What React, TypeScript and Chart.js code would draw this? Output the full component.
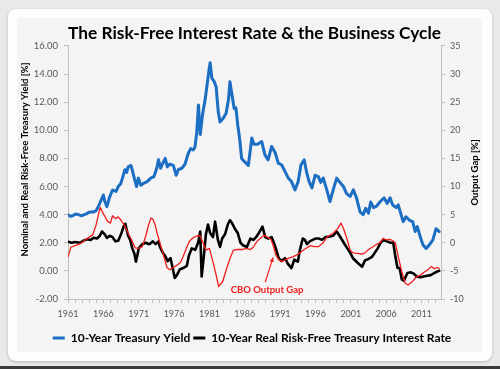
import React, { useEffect, useRef } from 'react';
import { Chart, registerables } from 'chart.js';

Chart.register(...registerables);

// ---------- text ----------
const titleText = 'The Risk-Free Interest Rate & the Business Cycle';
const leftAxisTitle = 'Nominal and Real Risk-Free Treasury Yield [%]';
const rightAxisTitle = 'Output Gap [%]';
const seriesNames = [
  '10-Year Treasury Yield',
  '10-Year Real Risk-Free Treasury Interest Rate',
  'CBO Output Gap',
];
const gapNoteText = 'CBO Output Gap';

// ---------- axes ----------
const xMin = 1961;
const xMax = 2013.75;
const xLabelYears = [1961, 1966, 1971, 1976, 1981, 1986, 1991, 1996, 2001, 2006, 2011];
const xTickYears = Array.from({ length: 53 }, (_, i) => 1961 + i);
const leftTicks = [-2, 0, 2, 4, 6, 8, 10, 12, 14, 16];
const rightTicks = [-10, -5, 0, 5, 10, 15, 20, 25, 30, 35];

// annotation anchor (year, output-gap %)
const gapNoteAt = [1989.15, -8.4];
const gapArrowFrom = [1988.9, -7.0];
const gapArrowTo = [1990.0, -2.6];

// ---------- data ----------
const yieldYears = [
  1961.0, 1961.4, 1961.75, 1962.1, 1962.5, 1962.9, 1963.2, 1963.6, 1963.9, 1964.3,
  1964.6, 1965.0, 1965.4, 1965.75, 1966.0, 1966.2, 1966.5, 1966.85, 1967.3, 1967.8,
  1968.1, 1968.45, 1968.7, 1969.05, 1969.3, 1969.5, 1969.9, 1970.15, 1970.5, 1970.7,
  1970.95, 1971.3, 1971.75, 1972.2, 1972.7, 1973.15, 1973.55, 1973.8, 1974.1, 1974.5,
  1974.75, 1975.05, 1975.4, 1975.9, 1976.3, 1976.6, 1977.1, 1977.55, 1978.0, 1978.35,
  1978.7, 1978.95, 1979.2, 1979.45, 1979.7, 1980.05, 1980.4, 1980.7, 1981.0, 1981.1,
  1981.35, 1981.65, 1981.95, 1982.25, 1982.5, 1982.95, 1983.35, 1983.7, 1983.9, 1984.2,
  1984.5, 1984.75, 1985.0, 1985.3, 1985.55, 1986.0, 1986.5, 1987.0, 1987.3, 1987.8,
  1988.4, 1988.85, 1989.3, 1989.8, 1990.3, 1990.75, 1991.2, 1991.7, 1992.15, 1992.6,
  1993.1, 1993.55, 1993.95, 1994.4, 1994.75, 1995.1, 1995.5, 1995.95, 1996.4, 1996.75,
  1997.1, 1997.6, 1998.05, 1998.5, 1999.0, 1999.45, 1999.95, 2000.4, 2000.9, 2001.35,
  2001.8, 2002.3, 2002.75, 2003.1, 2003.5, 2003.8, 2004.2, 2004.65, 2005.1, 2005.7,
  2006.15, 2006.55, 2006.9, 2007.4, 2007.7, 2008.05, 2008.4, 2008.8, 2009.3, 2009.75,
  2010.1, 2010.4, 2010.8, 2011.2, 2011.65, 2012.1, 2012.6, 2013.05, 2013.5,
];
const yieldValues = [
  3.98, 3.88, 3.95, 4.05, 4.0, 3.92, 3.98, 4.05, 4.15, 4.2,
  4.18, 4.3, 4.7, 5.1, 5.4, 4.95, 4.57, 5.2, 5.75, 5.65,
  6.0, 6.2, 6.6, 7.2, 7.0, 7.4, 7.5, 7.05, 6.35, 6.0,
  6.6, 6.1, 6.25, 6.35, 6.6, 6.7, 7.3, 7.9, 7.3, 7.75,
  8.0, 7.4, 7.6, 7.5, 6.8, 7.2, 7.3, 7.6, 8.35, 8.7,
  8.6, 8.8, 9.8, 11.8, 9.7, 11.2, 12.2, 13.35, 14.5, 14.8,
  13.7, 13.5, 13.1, 11.3, 10.6, 10.85, 11.2, 12.2, 13.45, 12.5,
  11.55, 11.6, 10.4, 9.3, 8.0, 7.75, 7.5, 9.45, 9.0, 9.0,
  9.2, 8.25, 7.9, 8.85, 8.4, 7.65, 7.55, 7.06, 6.6, 6.35,
  5.76, 6.35, 7.55, 7.9, 7.0, 6.35, 5.9, 6.8, 6.7, 6.3,
  6.6, 5.76, 4.93, 5.76, 6.6, 6.3, 6.0, 5.5, 5.3, 5.76,
  5.2, 4.2, 4.0, 4.45, 4.1, 4.9, 4.5, 4.6, 4.9, 5.2,
  4.8, 5.2, 4.7, 4.5, 4.7, 4.1, 3.5, 3.85, 3.6, 3.5,
  2.8, 3.15, 2.45, 1.85, 1.6, 1.85, 2.2, 3.0, 2.8,
];

const realYears = [
  1961.0, 1961.5, 1962.0, 1962.7, 1963.2, 1963.7, 1964.2, 1964.6, 1965.1, 1965.5,
  1965.8, 1966.2, 1966.5, 1966.9, 1967.3, 1967.7, 1968.1, 1968.5, 1968.9, 1969.1,
  1969.5, 1969.8, 1970.1, 1970.4, 1970.6, 1970.8, 1971.0, 1971.5, 1972.0, 1972.5,
  1973.0, 1973.4, 1973.8, 1974.0, 1974.4, 1974.8, 1975.1, 1975.5, 1975.8, 1976.1,
  1976.4, 1976.8, 1977.3, 1977.8, 1978.1, 1978.5, 1979.0, 1979.4, 1979.7, 1979.9,
  1980.2, 1980.5, 1980.8, 1981.1, 1981.5, 1981.8, 1982.2, 1982.5, 1982.8, 1983.2,
  1983.6, 1983.9, 1984.2, 1984.6, 1985.0, 1985.4, 1985.8, 1986.3, 1986.8, 1987.2,
  1987.6, 1988.0, 1988.5, 1988.9, 1989.3, 1989.8, 1990.3, 1990.8, 1991.2, 1991.7,
  1992.1, 1992.6, 1993.0, 1993.5, 1993.8, 1994.2, 1994.5, 1994.8, 1995.2, 1995.6,
  1996.0, 1996.5, 1996.9, 1997.4, 1998.0, 1998.5, 1999.0, 1999.4, 2000.0, 2000.5,
  2000.9, 2001.3, 2001.7, 2002.1, 2002.6, 2003.0, 2003.5, 2004.0, 2004.4, 2004.8,
  2005.2, 2005.6, 2006.1, 2006.6, 2007.0, 2007.3, 2007.6, 2007.9, 2008.2, 2008.5,
  2009.0, 2009.5, 2009.9, 2010.3, 2010.8, 2011.3, 2011.8, 2012.3, 2012.8, 2013.2,
  2013.5,
];
const realValues = [
  2.08, 2.0, 2.05, 2.0, 2.15, 2.25, 2.2, 2.35, 2.3, 2.5,
  2.8, 2.6, 2.35, 2.5, 2.4, 2.1, 2.15, 2.6, 3.2, 3.35,
  2.5, 2.2, 1.6, 1.2, 0.66, 1.1, 1.6, 1.9, 2.0, 1.9,
  2.1, 1.9, 2.1, 1.7, 1.3, 1.0, 0.7, 0.9, 0.2, -0.5,
  -0.3, 0.1, 0.2, 0.35, 1.1, 1.6, 1.5, 2.0, 2.8, -0.4,
  1.0, 2.6, 3.3, 2.7, 2.4, 3.5, 2.2, 1.7, 2.3, 2.6,
  3.3, 3.6, 3.4, 3.0, 2.7, 2.0, 1.8, 1.7, 2.3, 2.2,
  2.4, 2.7, 3.15, 2.4, 2.3, 2.4, 1.75, 0.9, 0.7, 0.9,
  0.5, 0.2, 0.8, 0.65, 1.5, 2.3, 2.2, 1.9, 2.1, 2.2,
  2.3, 2.3, 2.2, 2.4, 2.45, 2.5, 2.8, 2.5, 2.0, 1.6,
  1.3, 0.9, 0.7, 0.5, 0.3, 0.75, 0.85, 1.0, 1.3, 1.6,
  2.0, 2.2, 2.1, 2.0, 2.0, 1.0, 0.2, 0.2, -0.6, -0.7,
  -0.15, -0.1, -0.2, -0.4, -0.45, -0.4, -0.35, -0.3, -0.15, -0.05,
  0.0,
];

const gapYears = [
  1961.0, 1961.4, 1962.0, 1962.5, 1963.0, 1963.5, 1964.0, 1964.5, 1965.0, 1965.3,
  1965.55, 1965.9, 1966.3, 1966.6, 1967.0, 1967.3, 1967.7, 1968.1, 1968.5, 1969.0,
  1969.5, 1970.0, 1970.5, 1971.0, 1971.5, 1972.0, 1972.4, 1972.75, 1973.0, 1973.3,
  1973.6, 1974.0, 1974.5, 1975.0, 1975.4, 1975.9, 1976.4, 1976.9, 1977.3, 1977.8,
  1978.2, 1978.7, 1979.2, 1979.7, 1980.1, 1980.5, 1981.0, 1981.5, 1982.0, 1982.3,
  1982.9, 1983.5, 1984.0, 1984.4, 1985.0, 1985.6, 1986.2, 1986.8, 1987.2, 1987.7,
  1988.2, 1988.7, 1989.2, 1989.7, 1990.0, 1990.4, 1990.8, 1991.3, 1991.8, 1992.3,
  1992.8, 1993.4, 1993.9, 1994.4, 1994.9, 1995.3, 1995.8, 1996.4, 1997.1, 1997.6,
  1998.0, 1998.5, 1999.2, 1999.6, 2000.0, 2000.5, 2000.9, 2001.3, 2001.9, 2002.5,
  2003.0, 2003.5, 2004.0, 2004.6, 2005.1, 2005.6, 2006.0, 2006.5, 2006.9, 2007.3,
  2007.7, 2008.2, 2008.7, 2009.1, 2009.7, 2010.3, 2010.8, 2011.3, 2011.9, 2012.4,
  2012.8, 2013.2, 2013.5,
];
const gapValues = [
  -2.5, -0.8, -0.5, -0.3, 0.1, 0.6, 1.0, 1.4, 3.3, 5.0,
  6.3, 5.4, 4.5, 3.8, 3.5, 4.8, 4.3, 4.6, 4.0, 3.1,
  1.7, 0.5, -0.9, -1.0, -0.7, 1.2, 3.2, 4.4, 4.2, 3.3,
  1.7, 0.0, -2.2, -4.4, -4.8, -4.4, -4.0, -3.5, -2.4, -0.8,
  0.3, 0.9, 1.2, 1.2, 0.0, -1.3, -1.0, -3.4, -6.0, -7.8,
  -6.8, -4.3, -2.5, -1.3, -1.2, -1.2, -1.0, -1.2, -0.8, 0.2,
  0.8, 1.3, 1.0, 0.6, -0.4, -2.2, -3.0, -3.3, -3.0, -2.7,
  -2.5, -2.1, -1.7, -1.2, -0.8, -0.5, -0.7, -0.7, 0.0, 1.0,
  1.3, 1.7, 2.6, 3.5, 2.4, 0.5, -1.3, -1.8, -1.9, -2.0,
  -1.8, -1.2, -0.8, -0.3, 0.0, 0.8, 0.5, 0.6, 0.4, 0.0,
  -2.5, -5.1, -7.2, -7.5, -6.9, -6.0, -5.8, -5.3, -4.8, -4.2,
  -4.6, -4.4, -4.6,
];

// ---------- styles ----------
const BLUE = '#1b6ec2';
const BLACK = '#000000';
const RED = '#f21c1c';
const AXIS = '#bfbfbf';
const TICK = '#595959';
const FONT = 'Lato, "Open Sans", sans-serif';

const toPoints = (xs: number[], ys: number[]) => xs.map((x, i) => ({ x, y: ys[i] }));

const decorPlugin = {
  id: 'decor',
  afterDatasetsDraw(chart: any) {
    const { ctx, scales } = chart;
    const x = scales.x;
    const y1 = scales.y1;
    ctx.save();
    const ax0 = x.getPixelForValue(gapArrowFrom[0]);
    const ay0 = y1.getPixelForValue(gapArrowFrom[1]);
    const ax1 = x.getPixelForValue(gapArrowTo[0]);
    const ay1 = y1.getPixelForValue(gapArrowTo[1]);
    ctx.strokeStyle = RED;
    ctx.fillStyle = RED;
    ctx.lineWidth = 1.2;
    ctx.beginPath();
    ctx.moveTo(ax0, ay0);
    ctx.lineTo(ax1, ay1);
    ctx.stroke();
    const ang = Math.atan2(ay1 - ay0, ax1 - ax0);
    const hl = 5;
    ctx.beginPath();
    ctx.moveTo(ax1, ay1);
    ctx.lineTo(ax1 - hl * Math.cos(ang - 0.45), ay1 - hl * Math.sin(ang - 0.45));
    ctx.lineTo(ax1 - hl * Math.cos(ang + 0.45), ay1 - hl * Math.sin(ang + 0.45));
    ctx.closePath();
    ctx.fill();
    ctx.font = `bold 9.5px ${FONT}`;
    ctx.textAlign = 'center';
    ctx.textBaseline = 'middle';
    ctx.fillText(gapNoteText, x.getPixelForValue(gapNoteAt[0]), y1.getPixelForValue(gapNoteAt[1]));
    ctx.restore();
  },
  afterDraw(chart: any) {
    const { ctx, chartArea } = chart;
    const midY = (chartArea.top + chartArea.bottom) / 2;
    ctx.save();
    ctx.fillStyle = '#000';
    ctx.font = `bold 9.5px ${FONT}`;
    ctx.textAlign = 'center';
    ctx.textBaseline = 'middle';
    ctx.save();
    ctx.translate(chartArea.left - 43, midY - 13);
    ctx.rotate(-Math.PI / 2);
    ctx.fillText(leftAxisTitle, 0, 0);
    ctx.restore();
    ctx.save();
    ctx.translate(chartArea.right + 34, midY);
    ctx.rotate(-Math.PI / 2);
    ctx.fillText(rightAxisTitle, 0, 0);
    ctx.restore();
    ctx.restore();
  },
};

export default function App() {
  const ref = useRef<HTMLCanvasElement | null>(null);

  useEffect(() => {
    document.body.style.margin = '0';
    Chart.defaults.font.family = FONT;
    const canvas = ref.current;
    if (!canvas) return;
    const axisGrid = {
      display: true,
      drawOnChartArea: false,
      drawTicks: true,
      tickLength: 4,
      color: AXIS,
    };
    const lineBase = {
      pointRadius: 0,
      tension: 0,
      borderJoinStyle: 'round',
      borderCapStyle: 'round',
    };
    const chart = new Chart(canvas, {
      type: 'line',
      data: {
        datasets: [
          {
            ...lineBase,
            label: seriesNames[0],
            data: toPoints(yieldYears, yieldValues),
            borderColor: BLUE,
            backgroundColor: BLUE,
            borderWidth: 3,
            yAxisID: 'y',
            order: 0,
          },
          {
            ...lineBase,
            label: seriesNames[1],
            data: toPoints(realYears, realValues),
            borderColor: BLACK,
            backgroundColor: BLACK,
            borderWidth: 2.6,
            yAxisID: 'y',
            order: 2,
          },
          {
            ...lineBase,
            label: seriesNames[2],
            data: toPoints(gapYears, gapValues),
            borderColor: RED,
            backgroundColor: RED,
            borderWidth: 1.3,
            yAxisID: 'y1',
            order: 1,
          },
        ],
      },
      options: {
        responsive: false,
        animation: false,
        devicePixelRatio: 1,
        layout: { padding: { left: 24, right: 20, top: 0, bottom: 15 } },
        scales: {
          x: {
            type: 'linear',
            min: xMin,
            max: xMax,
            afterBuildTicks: (s: any) => {
              s.ticks = xTickYears.map((v) => ({ value: v }));
            },
            afterFit: (s: any) => {
              s.height = 30;
            },
            ticks: {
              autoSkip: false,
              maxRotation: 0,
              minRotation: 0,
              padding: 6,
              color: TICK,
              font: { size: 9 },
              callback: (v: any) => (xLabelYears.includes(Number(v)) ? String(v) : ''),
            },
            grid: axisGrid,
            border: { display: true, color: AXIS },
          },
          y: {
            position: 'left',
            min: leftTicks[0],
            max: leftTicks[leftTicks.length - 1],
            afterBuildTicks: (s: any) => {
              s.ticks = leftTicks.map((v) => ({ value: v }));
            },
            afterFit: (s: any) => {
              s.width = 44;
            },
            ticks: {
              padding: 6,
              color: TICK,
              font: { size: 9.5 },
              callback: (v: any) => Number(v).toFixed(2),
            },
            grid: axisGrid,
            border: { display: true, color: AXIS },
          },
          y1: {
            position: 'right',
            min: rightTicks[0],
            max: rightTicks[rightTicks.length - 1],
            afterBuildTicks: (s: any) => {
              s.ticks = rightTicks.map((v) => ({ value: v }));
            },
            afterFit: (s: any) => {
              s.width = 39;
            },
            ticks: {
              padding: 5,
              color: TICK,
              font: { size: 9 },
              callback: (v: any) => String(v),
            },
            grid: axisGrid,
            border: { display: true, color: AXIS },
          },
        },
        plugins: {
          title: {
            display: true,
            text: titleText,
            fullSize: false,
            color: '#000',
            font: { size: 17.8, weight: 'bold' },
            padding: { top: 22.3, bottom: 2.3 },
          },
          legend: {
            display: true,
            position: 'bottom',
            labels: {
              boxWidth: 12,
              boxHeight: 3,
              padding: 3,
              color: '#000',
              font: { size: 12, weight: 'bold' },
              generateLabels: (c: any) =>
                c.data.datasets
                  .map((ds: any, i: number) => ({
                    text: ds.label,
                    fillStyle: ds.borderColor,
                    strokeStyle: ds.borderColor,
                    lineWidth: 0,
                    hidden: false,
                    datasetIndex: i,
                    fontColor: '#000',
                  }))
                  .filter((item: any) => item.datasetIndex !== 2),
            },
          },
          tooltip: { enabled: false },
        },
      } as any,
      plugins: [decorPlugin],
    });
    return () => chart.destroy();
  }, []);

  return (
    <div style={{ position: 'relative', width: 500, height: 369, background: '#e9e9e9', overflow: 'hidden' }}>
      <div
        style={{
          position: 'absolute',
          left: 8,
          top: 9,
          width: 484,
          height: 352,
          background: '#fdfdfd',
          borderRadius: 8,
          boxShadow: '0 1px 3px rgba(0,0,0,0.22)',
        }}
      />
      <div style={{ position: 'absolute', left: 17, top: 18, width: 465, height: 334, background: '#f4f4f4' }} />
      <div style={{ position: 'absolute', left: 0, top: 366, width: 500, height: 3, background: '#3a3a3a' }} />
      <canvas ref={ref} width={500} height={369} style={{ position: 'absolute', left: 0, top: 0 }} />
    </div>
  );
}
